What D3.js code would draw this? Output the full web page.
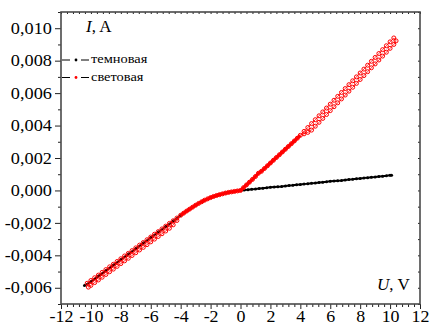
<!DOCTYPE html>
<html>
<head>
<meta charset="utf-8">
<script src="https://cdn.jsdelivr.net/npm/d3@7"></script>
<style>
  body { margin: 0; background: #fff; }
  svg { display: block; }
  svg text { font-family: "Liberation Serif", "Times New Roman", serif; }
</style>
</head>
<body>
<div id="chart"></div>
<script>
// tick values
var xTicks = [-12, -10, -8, -6, -4, -2, 0, 2, 4, 6, 8, 10, 12];
var yTicks = [-0.006, -0.004, -0.002, 0, 0.002, 0.004, 0.006, 0.008, 0.010];
var legendNames = ["темновая", "световая"];

// dark curve (темновая)
var darkU = [-10.43, -10, -9.5, -9, -8.5, -8, -7.5, -7, -6.5, -6, -5.5, -5, -4.5, -4, -3.5, -3, -2.5, -2, -1.5, -1, -0.5,
    0, 0.25, 0.5, 0.75, 1, 1.25, 1.5, 1.75, 2, 2.25, 2.5, 2.75, 3, 3.25, 3.5, 3.75, 4, 4.25, 4.5, 4.75, 5,
    5.25, 5.5, 5.75, 6, 6.25, 6.5, 6.75, 7, 7.25, 7.5, 7.75, 8, 8.25, 8.5, 8.75, 9, 9.25, 9.5, 9.75, 10, 10.1];
var darkI = [-0.00586, -0.00562, -0.00528, -0.00494, -0.0046, -0.00426, -0.00392, -0.00358, -0.00324, -0.0029, -0.00256,
    -0.00222, -0.00189, -0.00153, -0.00121, -0.00091, -0.00065, -0.00044, -0.00028, -0.00016, -0.00007,
    0, 0.00002, 0.00005, 0.00007, 0.00009, 0.00012, 0.00014, 0.00016, 0.00019, 0.00021, 0.00023, 0.00025,
    0.00028, 0.0003, 0.00032, 0.00035, 0.00037, 0.00039, 0.00042, 0.00044, 0.00046, 0.00049, 0.00051, 0.00053,
    0.00056, 0.00058, 0.0006, 0.00062, 0.00065, 0.00067, 0.00069, 0.00072, 0.00074, 0.00076, 0.00079, 0.00081,
    0.00083, 0.00086, 0.00088, 0.0009, 0.00093, 0.00094];

// light curve (световая): dense part around zero
var coreU = [-4, -3.8, -3.6, -3.4, -3.2, -3, -2.8, -2.6, -2.4, -2.2, -2, -1.8, -1.6, -1.4, -1.2, -1, -0.8, -0.6, -0.4, -0.2,
    0, 0.2, 0.4, 0.6, 0.8, 1, 1.2, 1.4, 1.6, 1.8, 2, 2.2, 2.4, 2.6, 2.8, 3, 3.2, 3.4, 3.6, 3.8, 4];
var coreI = [-0.00153, -0.0014, -0.00127, -0.00115, -0.00103, -0.00091, -0.0008, -0.0007, -0.0006, -0.00052, -0.00044,
    -0.00037, -0.00031, -0.00026, -0.00021, -0.00016, -0.00012, -0.00009, -0.00006, -0.00003,
    0, 0.00017, 0.00034, 0.00051, 0.00068, 0.00086, 0.00106, 0.00118, 0.00135, 0.00152, 0.00169, 0.00186,
    0.00203, 0.0022, 0.00237, 0.00254, 0.00271, 0.00288, 0.00305, 0.00322, 0.0034];

// light curve: positive loop, two sweeps
var posUpU = [4.25, 4.5, 4.75, 5, 5.25, 5.5, 5.75, 6, 6.25, 6.5, 6.75, 7, 7.25, 7.5, 7.75, 8, 8.25, 8.5, 8.75, 9,
    9.25, 9.5, 9.75, 10, 10.25];
var posUpI = [0.00364, 0.00388, 0.00412, 0.00436, 0.0046, 0.00484, 0.00508, 0.00532, 0.00556, 0.0058, 0.00604,
    0.00628, 0.00652, 0.00676, 0.007, 0.00724, 0.00748, 0.00772, 0.00796, 0.0082, 0.00844, 0.00868, 0.00892,
    0.00916, 0.0094];
var posLowU = [4.25, 4.5, 4.75, 5, 5.25, 5.5, 5.75, 6, 6.25, 6.5, 6.75, 7, 7.25, 7.5, 7.75, 8, 8.25, 8.5, 8.75, 9,
    9.25, 9.5, 9.75, 10, 10.25, 10.4];
var posLowI = [0.00349, 0.00358, 0.00372, 0.00396, 0.0042, 0.00444, 0.00468, 0.00492, 0.00516, 0.0054, 0.00564,
    0.00588, 0.00612, 0.00636, 0.0066, 0.00684, 0.00708, 0.00732, 0.00756, 0.0078, 0.00804, 0.00828, 0.00852,
    0.00876, 0.009, 0.00922];

// light curve: negative loop, two sweeps
var negUpU = [-4.25, -4.5, -4.75, -5, -5.25, -5.5, -5.75, -6, -6.25, -6.5, -6.75, -7, -7.25, -7.5, -7.75, -8,
    -8.25, -8.5, -8.75, -9, -9.25, -9.5, -9.75, -10, -10.25];
var negUpI = [-0.0017, -0.00187, -0.00203, -0.0022, -0.00237, -0.00254, -0.0027, -0.00287, -0.00304, -0.00321,
    -0.00337, -0.00354, -0.00371, -0.00388, -0.00404, -0.00421, -0.00438, -0.00455, -0.00471, -0.00488,
    -0.00505, -0.00522, -0.00538, -0.00555, -0.00572];
var negLowU = [-4.25, -4.5, -4.75, -5, -5.25, -5.5, -5.75, -6, -6.25, -6.5, -6.75, -7, -7.25, -7.5, -7.75, -8,
    -8.25, -8.5, -8.75, -9, -9.25, -9.5, -9.75, -10, -10.17];
var negLowI = [-0.00185, -0.00212, -0.00233, -0.0025, -0.00267, -0.00284, -0.003, -0.00317, -0.00334, -0.00351,
    -0.00367, -0.00384, -0.00401, -0.00418, -0.00434, -0.00451, -0.00468, -0.00485, -0.00501, -0.00518,
    -0.00535, -0.00552, -0.00568, -0.00585, -0.00596];

(function () {
    var W = 430, H = 325;
    var pLeft = 61, pRight = 420, pTop = 12, pBottom = 304;
    var serif = "Liberation Serif";

    var svg = d3.select("#chart").append("svg").attr("width", W).attr("height", H);

    var x = d3.scaleLinear().domain([-12, 12]).range([pLeft, pRight]);
    var y = d3.scaleLinear().domain([-0.007, 0.011]).range([pBottom, pTop]);

    function pairs(us, is) {
        return us.map(function (u, k) { return [u, is[k]]; });
    }

    var dark = pairs(darkU, darkI);
    var core = pairs(coreU, coreI);
    var posUp = pairs(posUpU, posUpI);
    var posLow = pairs(posLowU, posLowI);
    var negUp = pairs(negUpU, negUpI);
    var negLow = pairs(negLowU, negLowI);

    // loops go out along one sweep and back along the other
    var posLoop = [core[core.length - 1]].concat(posLow, posUp.slice().reverse(), [core[core.length - 1]]);
    var negLoop = [core[0]].concat(negLow, negUp.slice().reverse(), [core[0]]);

    var line = d3.line().x(function (d) { return x(d[0]); }).y(function (d) { return y(d[1]); });

    // minor ticks
    var xMinor = d3.range(-12, 12.01, 0.4).filter(function (v) { return Math.abs(Math.round(v / 2) * 2 - v) > 0.05; });
    var yMinor = d3.range(-0.007, 0.0111, 0.001).filter(function (v) { return Math.abs(Math.round(v / 0.002) * 0.002 - v) > 0.0001; });

    var fmtY = function (v) { return d3.format(".3f")(v).replace(".", ",").replace("\u2212", "-"); };
    var fmtX = function (v) { return String(v); };

    var axisColor = "#4a4a4a";

    var gx = svg.append("g").attr("transform", "translate(0," + pBottom + ")");
    gx.append("g").call(d3.axisBottom(x).tickValues(xMinor).tickSize(3).tickFormat(""));
    var gxMajor = gx.append("g").call(d3.axisBottom(x).tickValues(xTicks).tickSize(5).tickPadding(2).tickFormat(fmtX));

    var gy = svg.append("g").attr("transform", "translate(" + pLeft + ",0)");
    gy.append("g").call(d3.axisLeft(y).tickValues(yMinor).tickSize(3).tickFormat(""));
    var gyMajor = gy.append("g").call(d3.axisLeft(y).tickValues(yTicks).tickSize(6).tickPadding(2).tickFormat(fmtY));

    var gTop = svg.append("g").attr("transform", "translate(0," + pTop + ")");
    gTop.call(d3.axisBottom(x).tickValues(xMinor.concat(xTicks)).tickSize(2).tickFormat(""));

    var gRight = svg.append("g").attr("transform", "translate(" + pRight + ",0)");
    gRight.call(d3.axisLeft(y).tickValues(yMinor.concat(yTicks)).tickSize(2).tickFormat(""));

    svg.selectAll(".domain").remove();
    svg.selectAll("g").attr("font-family", serif);
    svg.selectAll(".tick line").attr("stroke", "#222").attr("stroke-width", 1);
    svg.selectAll(".tick text").attr("fill", "#000").attr("font-family", serif).attr("font-size", 16);
    // the reference lettering is a bit wider than the font
    gyMajor.selectAll(".tick text").attr("transform", "scale(1.14,1)");
    gxMajor.selectAll(".tick text").attr("transform", "scale(1.12,1)");

    // frame
    svg.append("rect").attr("x", pLeft).attr("y", pTop).attr("width", pRight - pLeft).attr("height", pBottom - pTop)
        .attr("fill", "none").attr("stroke", axisColor).attr("stroke-width", 1.6);

    // dark series
    svg.append("path").datum(dark).attr("d", line).attr("fill", "none").attr("stroke", "#000").attr("stroke-width", 2);
    svg.append("g").selectAll("circle").data(dark).enter().append("circle")
        .attr("cx", function (d) { return x(d[0]); }).attr("cy", function (d) { return y(d[1]); })
        .attr("r", 1.5).attr("fill", "#000");

    // light series
    var red = "#ff0000";
    svg.append("path").datum(core).attr("d", line).attr("fill", "none").attr("stroke", red).attr("stroke-width", 3.2);
    [negLoop, posLoop].forEach(function (seg) {
        svg.append("path").datum(seg).attr("d", line).attr("fill", "none").attr("stroke", red).attr("stroke-width", 0.8);
    });
    var lightPts = core.concat(posUp, posLow, negUp, negLow);
    svg.append("g").selectAll("circle").data(lightPts).enter().append("circle")
        .attr("cx", function (d) { return x(d[0]); }).attr("cy", function (d) { return y(d[1]); })
        .attr("r", 2).attr("fill", "none").attr("stroke", red).attr("stroke-width", 1);

    // axis titles
    var yTitle = svg.append("text").attr("x", 86).attr("y", 32).attr("font-family", serif).attr("font-size", 17);
    yTitle.append("tspan").attr("font-style", "italic").text("I");
    yTitle.append("tspan").text(", A");

    var xTitle = svg.append("text").attr("x", 377).attr("y", 290).attr("font-family", serif).attr("font-size", 17);
    xTitle.append("tspan").attr("font-style", "italic").text("U");
    xTitle.append("tspan").text(", V");

    // legend
    var legendDot = ["#000", red];
    legendNames.forEach(function (name, i) {
        var ly = 60 + i * 17.5;
        var g = svg.append("g");
        g.append("line").attr("x1", 62).attr("x2", 70).attr("y1", ly).attr("y2", ly).attr("stroke", "#000").attr("stroke-width", 1);
        g.append("line").attr("x1", 81).attr("x2", 89).attr("y1", ly).attr("y2", ly).attr("stroke", "#000").attr("stroke-width", 1);
        g.append("circle").attr("cx", 76).attr("cy", ly).attr("r", 1.4).attr("fill", legendDot[i]);
        g.append("text").attr("transform", "translate(91," + (ly + 3) + ") scale(1.2,1)")
            .attr("font-family", serif).attr("font-size", 12).text(name);
    });
})();
</script>
</body>
</html>
